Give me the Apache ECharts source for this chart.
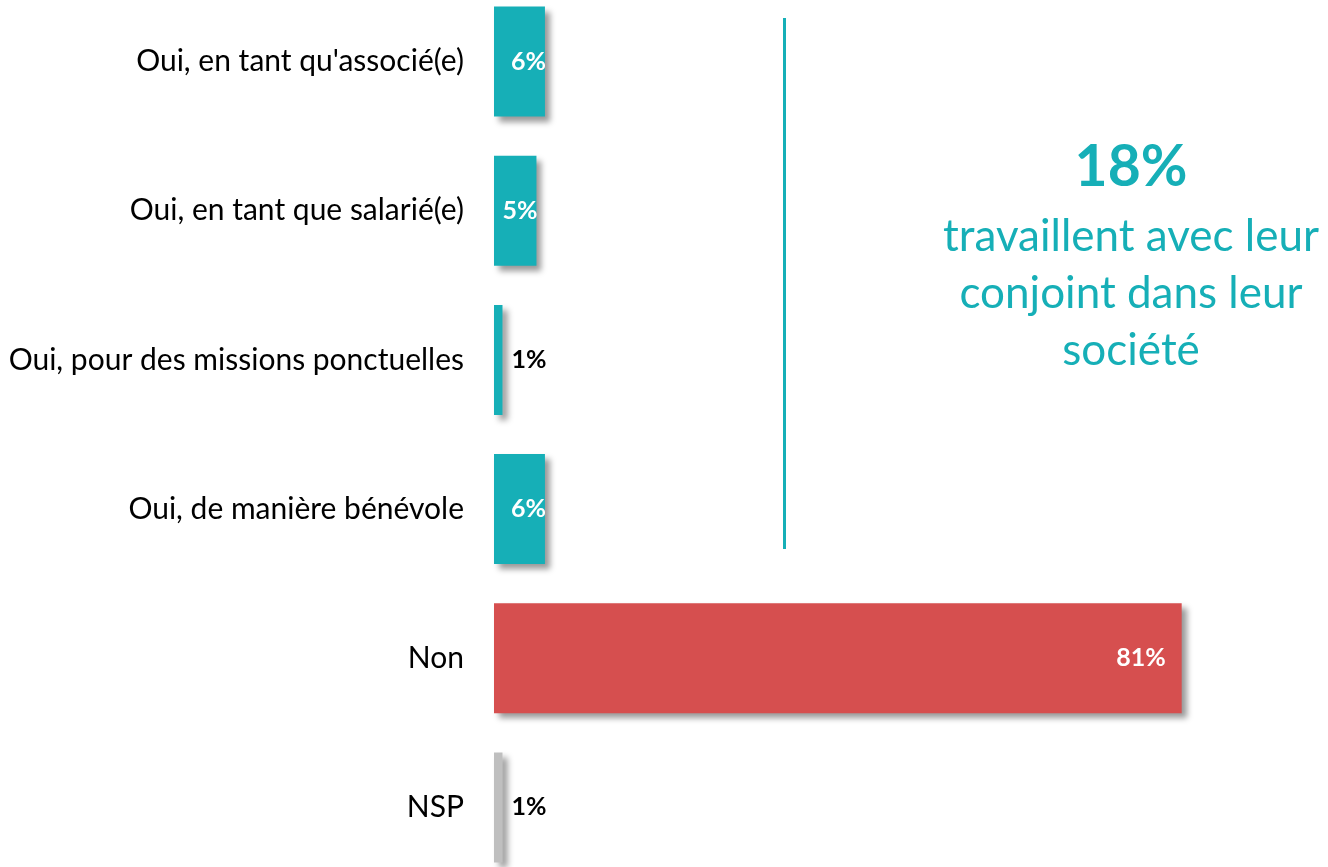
<!DOCTYPE html>
<html>
<head>
<meta charset="utf-8">
<script src="https://cdn.jsdelivr.net/npm/echarts@6/dist/echarts.min.js"></script>
<style>
  html, body { margin: 0; padding: 0; background: #fff; }
  #chart { width: 1328px; height: 867px; }
</style>
</head>
<body>
<div id="chart"></div>
<script>
var categories = ['Oui, en tant qu\'associé(e)', 'Oui, en tant que salarié(e)', 'Oui, pour des missions ponctuelles', 'Oui, de manière bénévole', 'Non', 'NSP'];
var values = [6, 5, 1, 6, 81, 1];
var barColors = ['#16AFB7', '#16AFB7', '#16AFB7', '#16AFB7', '#D64F4F', '#BFBFBF'];
var bigNumber = '18%';
var bigText = 'travaillent avec leur\nconjoint dans leur\nsociété';

var teal = '#16AFB7';
var fontFam = 'Lato, "Open Sans", sans-serif';

var chart = echarts.init(document.getElementById('chart'));

// labels: white inside the bar end, black outside for the thin bars
var seriesData = values.map(function (v, i) {
  var inside = v >= 5;
  return {
    value: v,
    itemStyle: { color: barColors[i] },
    label: inside ? {
      position: 'insideRight',
      distance: v > 50 ? 16 : -1,
      color: '#fff'
    } : {
      position: 'right',
      distance: 9,
      color: '#000'
    }
  };
});

var option = {
  backgroundColor: '#fff',
  animation: false,
  grid: { left: 494, top: -13, width: 849, height: 895, outerBoundsMode: 'none' },
  xAxis: {
    type: 'value', min: 0, max: 100, show: false
  },
  yAxis: {
    type: 'category',
    inverse: true,
    data: categories,
    axisLine: { show: false },
    axisTick: { show: false },
    axisLabel: { margin: 30, fontSize: 30, color: '#000', fontFamily: fontFam, padding: [3, 0, 0, 0] }
  },
  series: [{
    type: 'bar',
    data: seriesData,
    barWidth: 110,
    itemStyle: {
      shadowColor: 'rgba(0,0,0,0.4)',
      shadowBlur: 6,
      shadowOffsetX: 5,
      shadowOffsetY: 5
    },
    label: {
      show: true,
      formatter: '{c}%',
      fontSize: 25,
      fontWeight: 'bold',
      fontFamily: fontFam
    }
  }],
  graphic: [
    {
      type: 'line',
      shape: { x1: 784.5, y1: 18, x2: 784.5, y2: 549 },
      style: { stroke: teal, lineWidth: 3 }
    },
    {
      type: 'text',
      x: 1131, y: 168,
      style: {
        text: bigNumber, fill: teal, font: 'bold 57px ' + fontFam,
        align: 'center', verticalAlign: 'middle'
      }
    },
    {
      type: 'text',
      x: 1131, y: 208,
      style: {
        text: bigText, fill: teal, font: '44px ' + fontFam,
        lineHeight: 57, align: 'center', verticalAlign: 'top'
      }
    }
  ]
};
chart.setOption(option);
</script>
</body>
</html>
